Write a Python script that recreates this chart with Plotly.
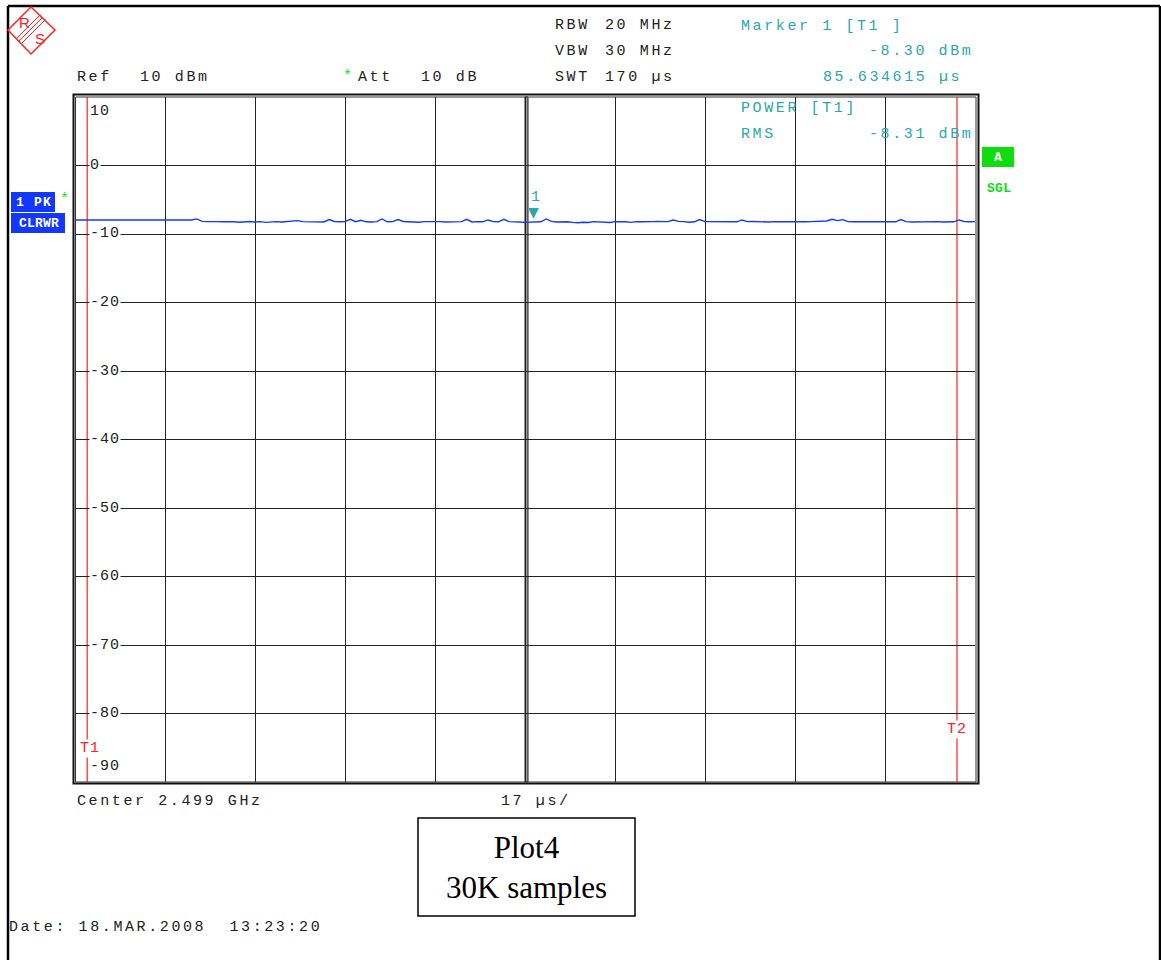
import plotly.graph_objects as go

# Sweep time axis (µs) and trace level (dBm), one point per µs
sweep_us = list(range(0, 171))
level_dbm = [
    -7.95, -7.95, -7.95, -7.95, -7.95, -7.95, -7.95, -7.95, -7.95, -7.95,
    -7.95, -7.95, -7.95, -7.95, -7.95, -7.95, -7.95, -7.95, -7.95, -7.95,
    -7.95, -7.95, -7.95, -7.80, -8.15, -8.20, -8.25, -8.20, -8.22, -8.18,
    -8.22, -8.28, -8.20, -8.18, -8.24, -8.20, -8.30, -8.22, -8.20, -8.25,
    -8.20, -8.18, -8.05, -8.20, -8.22, -8.18, -8.20, -8.24, -7.90, -8.18,
    -8.22, -8.20, -7.85, -8.20, -8.00, -8.22, -8.25, -8.20, -7.80, -8.22,
    -8.20, -7.90, -8.18, -8.24, -8.20, -8.28, -8.20, -8.18, -8.22, -8.20,
    -8.25, -8.20, -8.18, -8.20, -7.85, -8.24, -8.20, -8.22, -7.95, -8.20,
    -8.22, -7.85, -8.20, -8.18, -8.24, -8.30, -8.30, -8.20, -8.22, -7.80,
    -8.15, -8.25, -8.20, -8.22, -8.30, -8.35, -8.28, -8.32, -8.20, -8.22,
    -8.20, -8.32, -8.20, -8.18, -8.22, -8.30, -8.20, -8.22, -8.25, -8.20,
    -8.18, -8.22, -8.20, -7.95, -8.15, -8.20, -8.28, -8.22, -7.90, -8.20,
    -8.22, -8.18, -8.20, -8.24, -8.20, -8.22, -7.95, -8.20, -8.18, -8.22,
    -8.20, -8.25, -8.20, -8.22, -8.18, -8.20, -8.24, -8.20, -8.22, -8.20,
    -8.18, -8.22, -8.10, -7.85, -8.05, -7.90, -8.20, -8.22, -8.25, -8.20,
    -8.22, -8.20, -8.18, -8.24, -8.20, -8.22, -7.90, -8.20, -8.25, -8.22,
    -8.20, -8.18, -8.22, -8.20, -8.24, -8.20, -8.22, -7.95, -8.20, -8.22,
    -8.20,
]

# Marker 1 and the power-measurement gate lines
marker_us = [85.634615]
marker_dbm = [-8.30]
gate_us = [2.3, 166.6]
gate_names = ["T1", "T2"]

# Grid scale
ref_dbm = 10
y_labels = [10, 0, -10, -20, -30, -40, -50, -60, -70, -80, -90]
x_div_us = 17
sweep_total_us = 170

W, H = 1161, 960
L, R, T, B = 75, 975, 97, 782

CYAN = "#2aa8a8"
RED = "#ff2020"
BLUE = "#1238ff"
GREEN = "#10dd10"
MONO = "Liberation Mono"
FS = 15
GAP = 2.6


def px(x):
    return (x - L) / (R - L)


def py(y):
    return (B - y) / (B - T)


def sp(s, gap=GAP):
    return f'<span style="letter-spacing:{gap}px">{s}</span>'


fig = go.Figure()
fig.add_trace(go.Scatter(
    x=sweep_us, y=level_dbm, mode="lines",
    line=dict(color=BLUE, width=1.4), hoverinfo="skip", showlegend=False,
))

annotations = []


def text(x, y, s, color="#222", size=FS, anchor="left", family=MONO, gap=GAP, **kw):
    annotations.append(dict(
        x=px(x), y=py(y), xref="paper", yref="paper", text=sp(s, gap) if gap else s,
        showarrow=False, xanchor=anchor, yanchor="middle",
        font=dict(family=family, size=size, color=color), borderpad=0, **kw,
    ))


# Header
text(76, 77, "Ref")
text(139, 77, "10 dBm")
text(342, 76, "*", color=GREEN, size=15, gap=0)
text(357, 77, "Att")
text(420, 77, "10 dB")
text(554, 26, "RBW")
text(604, 26, "20 MHz")
text(554, 51, "VBW")
text(604, 51, "30 MHz")
text(554, 77, "SWT")
text(604, 77, "170 µs")
text(740, 27, "Marker 1 [T1 ]", color=CYAN)
text(868, 51, f"{marker_dbm[0]:.2f} dBm", color=CYAN)
text(822, 77, f"{marker_us[0]:.6f} µs", color=CYAN)
text(740, 109, "POWER [T1]", color=CYAN)
text(740, 134, "RMS", color=CYAN)
text(868, 134, "-8.31 dBm", color=CYAN)

# Level labels on the grid
for v in y_labels:
    yy = T + (ref_dbm - v) / 100 * (B - T)
    if v == ref_dbm:
        yy += 15
    elif v == y_labels[-1]:
        yy -= 16
    text(88.5, yy, str(v), gap=1.0, bgcolor="white")

# Gate labels
text(90, 748, gate_names[0], color=RED, anchor="center", bgcolor="white", gap=1.0)
text(956.5, 729, gate_names[1], color=RED, anchor="center", bgcolor="white", gap=1.0)

# Footer
text(76, 801, "Center 2.499 GHz")
text(500, 801, f"{x_div_us} µs/")
text(8, 927, "Date: 18.MAR.2008  13:23:20")

# Trace and status badges
text(33.5, 202, "<b>1 PK</b>", color="white", size=13, anchor="center", gap=1.2)
text(38.5, 223, "<b>CLRWR</b>", color="white", size=13, anchor="center", gap=0.2)
text(64, 200, "*", color=GREEN, size=15, anchor="center", gap=0)
text(998, 157, "<b>A</b>", color="white", size=13, anchor="center", gap=0)
text(999, 188, "<b>SGL</b>", color=GREEN, size=13, anchor="center", gap=0.3)

# Caption box text
annotations.append(dict(
    x=px(526.5), y=py(867), xref="paper", yref="paper",
    text="Plot4<br>30K samples", showarrow=False, xanchor="center", yanchor="middle",
    font=dict(family="Liberation Serif", size=31, color="black"),
))

# Logo letters
text(24, 22, "R", color=RED, size=15, anchor="center", family="Liberation Sans", gap=0)
text(40, 39, "S", color=RED, size=15, anchor="center", family="Liberation Sans", gap=0)

# Marker 1 symbol
annotations.append(dict(
    x=marker_us[0], y=marker_dbm[0], xref="x", yref="y", text="▼",
    showarrow=False, yanchor="bottom", xanchor="center", yshift=0, xshift=5,
    font=dict(size=14, color=CYAN, family="DejaVu Sans"),
))
annotations.append(dict(
    x=marker_us[0], y=marker_dbm[0], xref="x", yref="y", text="1",
    showarrow=False, yanchor="bottom", xanchor="center", yshift=14, xshift=7,
    font=dict(size=15, color=CYAN, family=MONO),
))

shapes = []


def pline(x0, y0, x1, y1, color="black", width=1):
    shapes.append(dict(type="line", xref="paper", yref="paper",
                       x0=px(x0), y0=py(y0), x1=px(x1), y1=py(y1),
                       line=dict(color=color, width=width)))


def prect(x0, y0, x1, y1, fill=None, color="black", width=1, layer="above"):
    shapes.append(dict(type="rect", xref="paper", yref="paper",
                       x0=px(x0), y0=py(y0), x1=px(x1), y1=py(y1),
                       fillcolor=fill if fill else "rgba(0,0,0,0)",
                       line=dict(color=color, width=width), layer=layer))


# Page frame
pline(8, 6, 1160, 6, width=2.5)
pline(8, 6, 8, 960, width=2.5)
pline(1160, 6, 1160, 960, width=2.5)

# Double frame around the grid and the centre line
prect(73.5, 94.5, 978.5, 783.5, width=2, color="#111", layer="below")
prect(75.5, 97, 976, 782, width=1, color="#333", layer="below")
prect(525, 97, 528, 782, fill="#999", width=1, color="#222", layer="below")

# Gate lines
for g in gate_us:
    shapes.append(dict(type="line", xref="x", yref="paper", x0=g, x1=g, y0=0, y1=1,
                       line=dict(color=RED, width=1.2), layer="below"))

# Badges
prect(11, 192, 55, 212, fill=BLUE, color=BLUE, width=0, layer="below")
prect(11, 213, 65, 233, fill=BLUE, color=BLUE, width=0, layer="below")
prect(982, 147, 1014, 167, fill=GREEN, color=GREEN, width=0, layer="below")

# Caption box
prect(418, 818, 635, 916, width=1.5, color="black")

# Logo diamond with stripes
shapes.append(dict(type="path", xref="paper", yref="paper",
                   path=f"M {px(8)},{py(30)} L {px(31)},{py(7)} L {px(55)},{py(30)} L {px(31)},{py(54)} Z",
                   line=dict(color=RED, width=1.5)))
for d in (-2.5, 0, 2.5):
    pline(43 + d, 17 + d, 19 + d, 41 + d, color=RED, width=1)

fig.update_layout(
    width=W, height=H,
    margin=dict(l=L, r=W - R, t=T, b=H - B, pad=0),
    paper_bgcolor="white", plot_bgcolor="white",
    showlegend=False,
    xaxis=dict(range=[0, sweep_total_us], dtick=x_div_us, tick0=0, showgrid=True,
               gridcolor="#222", gridwidth=1, zeroline=False, showticklabels=False,
               ticks="", showline=False, fixedrange=True),
    yaxis=dict(range=[-90, ref_dbm], dtick=10, tick0=0, showgrid=True,
               gridcolor="#222", gridwidth=1, zeroline=False, showticklabels=False,
               ticks="", showline=False, fixedrange=True),
    annotations=annotations,
    shapes=shapes,
)

fig.write_html("out.html")
